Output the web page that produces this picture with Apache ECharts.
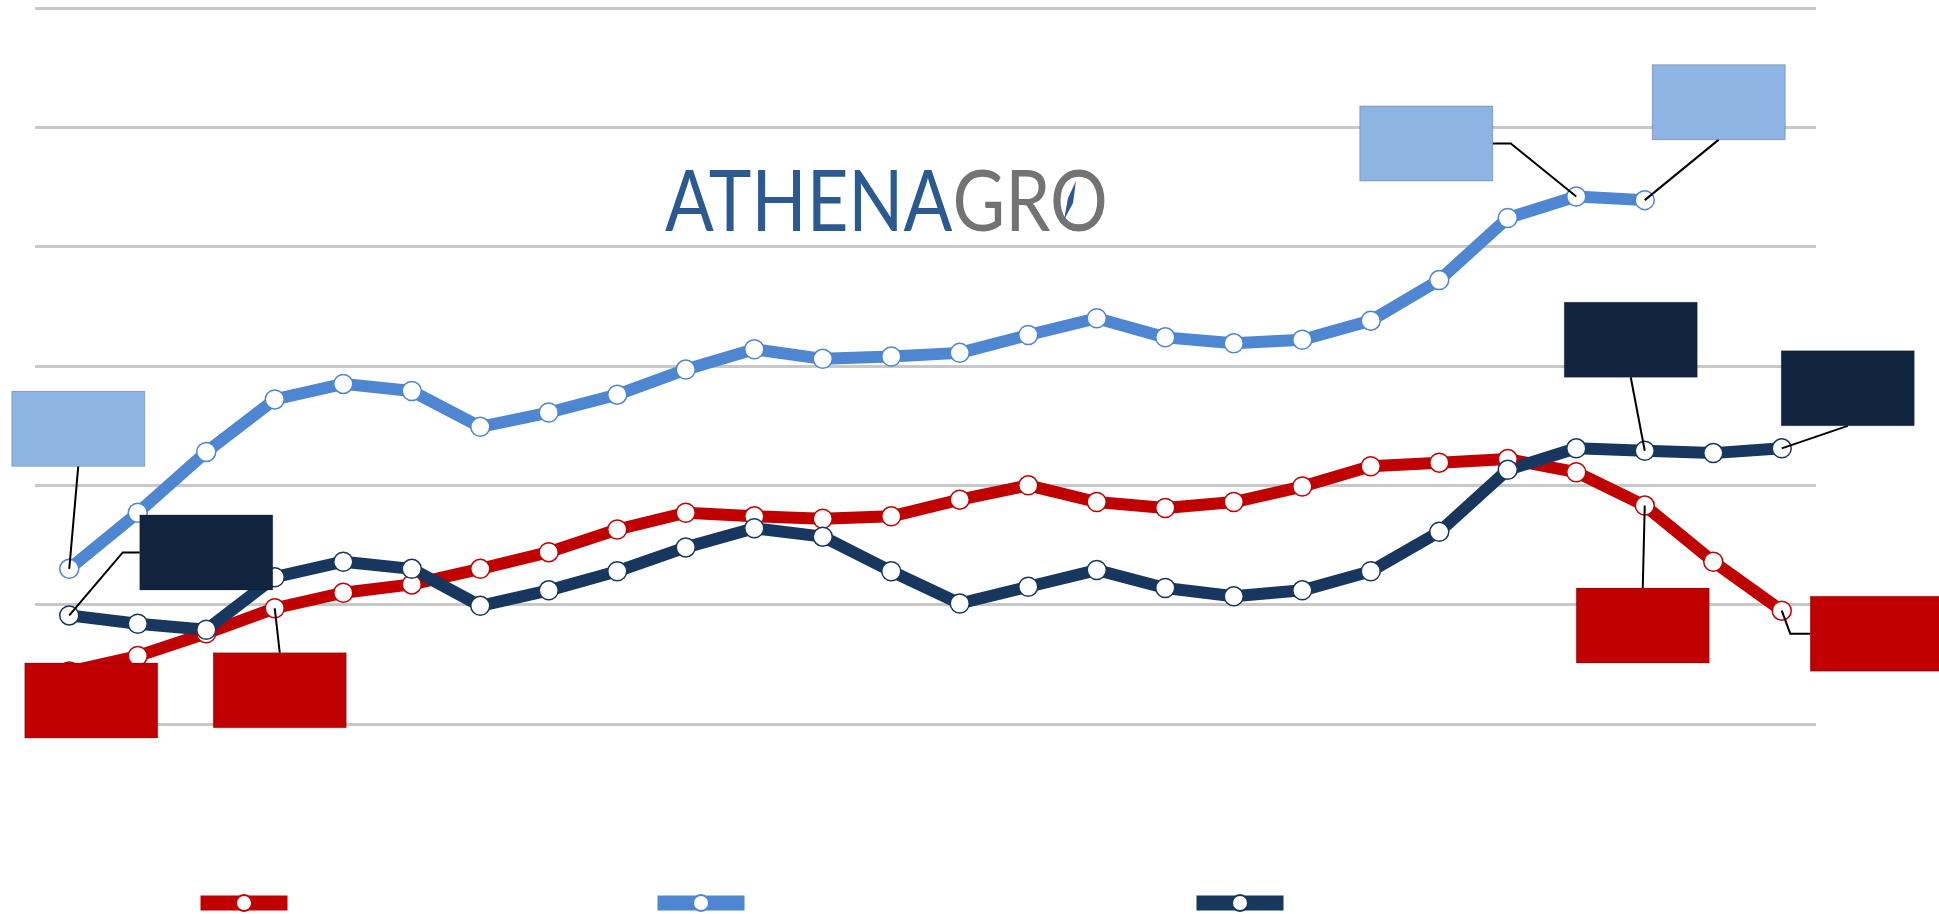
<!DOCTYPE html>
<html>
<head>
<meta charset="utf-8">
<title>Athenagro</title>
<script src="https://cdn.jsdelivr.net/npm/echarts@6/dist/echarts.min.js"></script>
<style>
  html, body { margin: 0; padding: 0; background: #fff; }
  #chart { width: 1939px; height: 914px; }
</style>
</head>
<body>
<div id="chart"></div>
<script>
// datos (sin etiquetas en el original)
const categories = ['1', '2', '3', '4', '5', '6', '7', '8', '9', '10', '11', '12', '13',
  '14', '15', '16', '17', '18', '19', '20', '21', '22', '23', '24', '25', '26'];
const serieRoja = [0.44, 0.57, 0.76, 0.97, 1.10, 1.17, 1.30, 1.44, 1.63, 1.77, 1.74, 1.72, 1.74,
  1.88, 2.00, 1.86, 1.81, 1.86, 1.99, 2.16, 2.19, 2.22, 2.11, 1.83, 1.36, 0.95];
const serieCeleste = [1.30, 1.77, 2.28, 2.72, 2.85, 2.79, 2.49, 2.61, 2.76, 2.97, 3.14, 3.06, 3.08,
  3.11, 3.26, 3.40, 3.24, 3.19, 3.22, 3.38, 3.72, 4.24, 4.42, 4.39, null, null];
const serieAzul = [0.91, 0.84, 0.79, 1.23, 1.36, 1.30, 0.99, 1.12, 1.28, 1.48, 1.64, 1.57, 1.28,
  1.01, 1.15, 1.29, 1.14, 1.07, 1.12, 1.28, 1.61, 2.13, 2.31, 2.29, 2.27, 2.31];
const seriesNames = ['Serie A', 'Serie B', 'Serie C'];
const yTicks = [0, 1, 2, 3, 4, 5, 6];

const colores = {
  roja: '#C00000',
  celeste: '#4F86D2',
  azul: '#17375E',
};
const cajas = ['#C00000', '#8EB4E3', '#11243F'];
const valores = [serieRoja, serieCeleste, serieAzul];

// recuadros vacios: desplazamiento del centro respecto del punto y lado de la linea guia
const callouts = [
  { serie: 0, index: 0, dx: 22, dy: 29, side: null },
  { serie: 0, index: 3, dx: 5, dy: 82, side: 'top' },
  { serie: 0, index: 23, dx: -2, dy: 120, side: 'top' },
  { serie: 0, index: 25, dx: 95, dy: 23, side: 'left', len: 20 },
  { serie: 1, index: 0, dx: 9, dy: -140, side: 'bottom' },
  { serie: 1, index: 22, dx: -150, dy: -53, side: 'right', len: 18 },
  { serie: 1, index: 23, dx: 74, dy: -98, side: 'bottom' },
  { serie: 2, index: 0, dx: 137, dy: -63, side: 'left', len: 17 },
  { serie: 2, index: 23, dx: -14, dy: -111, side: 'bottom' },
  { serie: 2, index: 25, dx: 66, dy: -60, side: 'bottom' },
];
const boxW = 133;
const boxH = 75;

function lineSerie(name, values, color) {
  return {
    name: name,
    type: 'line',
    data: values,
    symbol: 'circle',
    symbolSize: 19,
    showAllSymbol: true,
    connectNulls: false,
    lineStyle: { color: color, width: 12, join: 'round' },
    itemStyle: { color: '#fff', borderColor: color, borderWidth: 1.5 },
    emphasis: { disabled: true },
  };
}

// dibuja cada recuadro y su linea guia a partir de la coordenada del punto
function renderCallout(params, api) {
  const c = callouts[params.dataIndex];
  const p = api.coord([api.value(0), api.value(1)]);
  const cx = p[0] + c.dx;
  const cy = p[1] + c.dy;
  const x0 = cx - boxW / 2;
  const y0 = cy - boxH / 2;
  const len = c.len || 0;
  const children = [];
  let anchor = null;
  let bend = null;
  if (c.side === 'top') { anchor = [cx, y0]; bend = [cx, y0 - len]; }
  if (c.side === 'bottom') { anchor = [cx, y0 + boxH]; bend = [cx, y0 + boxH + len]; }
  if (c.side === 'left') { anchor = [x0, cy]; bend = [x0 - len, cy]; }
  if (c.side === 'right') { anchor = [x0 + boxW, cy]; bend = [x0 + boxW + len, cy]; }
  if (anchor) {
    children.push({
      type: 'polyline',
      shape: { points: [p, bend, anchor] },
      style: { stroke: '#000', lineWidth: 2, fill: null },
    });
  }
  children.push({
    type: 'rect',
    shape: { x: x0, y: y0, width: boxW, height: boxH },
    style: { fill: cajas[c.serie], stroke: 'rgba(0,0,0,0.22)', lineWidth: 1 },
  });
  return { type: 'group', children: children };
}

const chart = echarts.init(document.getElementById('chart'));
const legendLefts = [193, 650, 1189];

const option = {
  animation: false,
  backgroundColor: '#fff',
  grid: { left: 35, right: 123, top: 8, bottom: 190, containLabel: false, outerBoundsMode: 'none' },
  xAxis: {
    type: 'category',
    data: categories,
    boundaryGap: true,
    axisLine: { show: false },
    axisTick: { show: false },
    axisLabel: { show: false },
  },
  yAxis: {
    type: 'value',
    min: yTicks[0],
    max: yTicks[yTicks.length - 1],
    interval: 1,
    axisLine: { show: false },
    axisTick: { show: false },
    axisLabel: { show: false },
    splitLine: { lineStyle: { color: '#c8c8c8', width: 3 } },
  },
  legend: seriesNames.map((name, i) => ({
    data: [name],
    left: legendLefts[i],
    top: 893,
    padding: 0,
    itemWidth: 87,
    itemHeight: 20,
    selectedMode: false,
    formatter: () => '',
    lineStyle: { width: 15 },
  })),
  graphic: [
    {
      type: 'text',
      x: 665,
      y: 161,
      scaleX: 0.85,
      style: {
        text: '{a|ATHENA}{g|GRO}',
        rich: {
          a: { fill: '#2C5A90', fontSize: 85, fontFamily: 'Lato', fontWeight: 'normal' },
          g: { fill: '#737373', fontSize: 85, fontFamily: 'Lato', fontWeight: 'normal' },
        },
      },
    },
    {
      // aguja de la brujula del logo
      type: 'polygon',
      shape: { points: [[1076, 181], [1073, 203], [1064, 220], [1068, 198]] },
      style: { fill: '#2C5A90' },
    },
  ],
  series: [
    lineSerie(seriesNames[0], serieRoja, colores.roja),
    lineSerie(seriesNames[1], serieCeleste, colores.celeste),
    lineSerie(seriesNames[2], serieAzul, colores.azul),
    {
      type: 'custom',
      name: 'recuadros',
      coordinateSystem: 'cartesian2d',
      clip: false,
      z: 5,
      silent: true,
      encode: { x: 0, y: 1 },
      data: callouts.map((c) => [c.index, valores[c.serie][c.index]]),
      renderItem: renderCallout,
    },
  ],
};

chart.setOption(option);
</script>
</body>
</html>
